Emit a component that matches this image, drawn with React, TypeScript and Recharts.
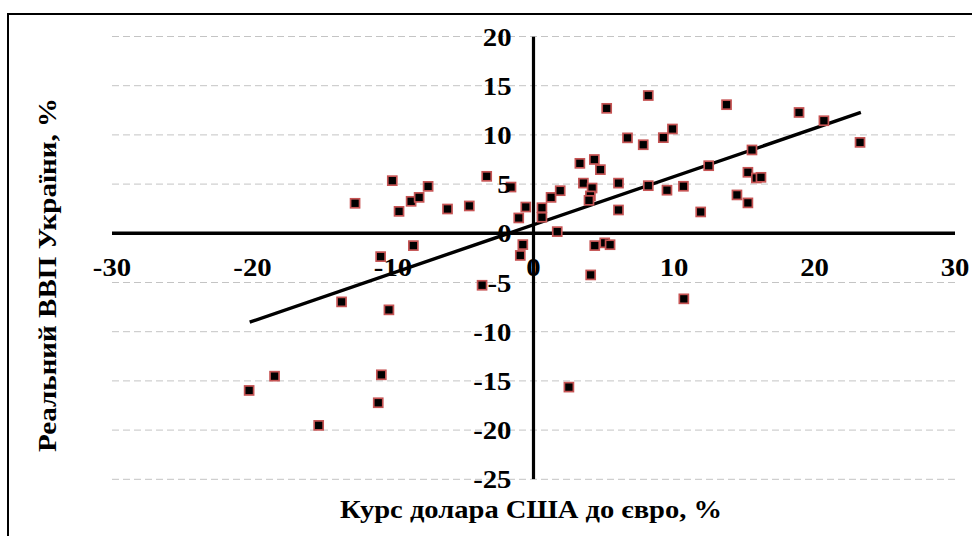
import React from "react";
import { ScatterChart, Scatter, XAxis, YAxis, CartesianGrid } from "recharts";

// Курс долара США до євро, % (x) and Реальний ВВП України, % (y)
const usdEur: number[] = [
  -12.7, -10.05, -9.57, -8.71, -8.14, -7.5, -6.12, -4.57, -3.33, -1.6,
  -0.55, -1.05, 0.6, 0.6, 1.25, 1.9, 1.69, -8.55, -10.88, -0.76,
  -0.94, -3.66, -13.66, -10.29, 3.3, 4.33, 4.76, 3.55, 4.17, 4.05,
  3.95, 6.05, 6.05, 6.69, 5.21, 8.17, 7.81, 9.24, 9.89, 8.17,
  9.5, 10.67, 11.9, 12.47, 13.74, 4.36, 5.07, 5.45, 4.07, 10.7,
  18.9, 20.67, 23.24, 15.55, 15.26, 15.86, 16.19, 14.48, 15.26, -20.24,
  -18.43, -15.29, -10.83, -11.05, 2.52,
];
const gdpUa: number[] = [
  3.05, 5.35, 2.23, 3.25, 3.65, 4.77, 2.47, 2.78, 5.79, 4.7,
  2.67, 1.56, 2.6, 1.63, 3.65, 4.33, 0.17, -1.25, -2.37, -1.15,
  -2.25, -5.28, -6.97, -7.78, 7.11, 7.5, 6.47, 5.1, 4.6, 3.8,
  3.35, 5.1, 2.37, 9.7, 12.7, 14.0, 9.0, 9.72, 10.6, 4.84,
  4.38, 4.78, 2.17, 6.87, 13.07, -1.25, -0.97, -1.16, -4.23, -6.66,
  12.28, 11.44, 9.24, 8.47, 6.2, 5.62, 5.69, 3.9, 3.09, -15.97,
  -14.52, -19.52, -14.38, -17.22, -15.63,
];
const trendX: number[] = [-20.2, 23.3];
const trendY: number[] = [-9.03, 12.28];
const xTicks: number[] = [-30, -20, -10, 0, 10, 20, 30];
const yTicks: number[] = [20, 15, 10, 5, 0, -5, -10, -15, -20, -25];
const X_DOMAIN: [number, number] = [-30, 30];
const Y_DOMAIN: [number, number] = [-25, 20];

const points = usdEur.map((x, i) => ({ x, y: gdpUa[i] }));
const trend = trendX.map((x, i) => ({ x, y: trendY[i] }));
const hAxis = [{ x: X_DOMAIN[0], y: 0 }, { x: X_DOMAIN[1], y: 0 }];
const vAxis = [{ x: 0, y: Y_DOMAIN[1] }, { x: 0, y: Y_DOMAIN[0] }];

const W = 972;
const H = 536;
const AX_H = 30;
const AX_W = 30;
const plotLeft = 112;
const plotTop = 36.5;
const plotRight = 955;
const plotBottom = 479.3;
const margin = {
  top: plotTop,
  right: W - plotRight,
  bottom: H - plotBottom - AX_H,
  left: plotLeft - AX_W,
};
const plotW = plotRight - plotLeft;
const plotH = plotBottom - plotTop;
const originX =
  plotLeft + (plotW * (0 - X_DOMAIN[0])) / (X_DOMAIN[1] - X_DOMAIN[0]);
const originY =
  plotTop + (plotH * (Y_DOMAIN[1] - 0)) / (Y_DOMAIN[1] - Y_DOMAIN[0]);

const FONT = '"Liberation Serif", "Tinos", "Times New Roman", "DejaVu Serif", serif';
const textStyle: React.CSSProperties = {
  fontFamily: FONT,
  fontWeight: 700,
  fontSize: 25,
};

const renderXTick = (props: any) => {
  const { x, payload } = props;
  return (
    <text
      key={`xt-${payload.value}`}
      transform={`translate(${x},${originY + 43}) scale(1.15,1)`}
      textAnchor="middle"
      fontFamily={FONT}
      style={textStyle}
      fill="#000"
    >
      {payload.value}
    </text>
  );
};

const renderYTick = (props: any) => {
  const { y, payload } = props;
  return (
    <text
      key={`yt-${payload.value}`}
      transform={`translate(${originX - 22},${y + 9}) scale(1.15,1)`}
      textAnchor="end"
      fontFamily={FONT}
      style={textStyle}
      fill="#000"
    >
      {payload.value}
    </text>
  );
};

const SquareMark = (props: any) => {
  const { cx, cy } = props;
  if (cx == null || cy == null) return <g />;
  const s = 9;
  return (
    <rect
      x={cx - s / 2}
      y={cy - s / 2}
      width={s}
      height={s}
      fill="#000"
      stroke="#c65454"
      strokeWidth={1.7}
    />
  );
};

const NoMark = () => <g />;

export default function App() {
  return (
    <div
      style={{
        position: "absolute",
        left: 0,
        top: 0,
        width: W,
        height: H,
        background: "#fff",
        overflow: "hidden",
        fontFamily: FONT,
      }}
    >
      <div
        style={{
          position: "absolute",
          left: 7,
          top: 13,
          width: 990,
          height: 560,
          border: "2.5px solid #000",
          boxSizing: "border-box",
        }}
      />
      <div style={{ position: "absolute", left: 0, top: 0 }}>
        <ScatterChart width={W} height={H} margin={margin}>
          <CartesianGrid
            horizontal={true}
            vertical={false}
            stroke="#c4c4c4"
            strokeDasharray="7 4"
            strokeWidth={1}
          />
          <XAxis
            type="number"
            dataKey="x"
            domain={X_DOMAIN}
            ticks={xTicks}
            interval={0}
            height={AX_H}
            axisLine={false}
            tickLine={false}
            tick={renderXTick}
            allowDataOverflow={true}
          />
          <YAxis
            type="number"
            dataKey="y"
            domain={Y_DOMAIN}
            ticks={yTicks}
            interval={0}
            width={AX_W}
            axisLine={false}
            tickLine={false}
            tick={renderYTick}
            allowDataOverflow={true}
          />
          <Scatter
            data={hAxis}
            line={{ stroke: "#000", strokeWidth: 3.4 }}
            shape={<NoMark />}
            isAnimationActive={false}
          />
          <Scatter
            data={vAxis}
            line={{ stroke: "#000", strokeWidth: 3.2 }}
            shape={<NoMark />}
            isAnimationActive={false}
          />
          <Scatter
            data={trend}
            line={{ stroke: "#000", strokeWidth: 3.4 }}
            shape={<NoMark />}
            isAnimationActive={false}
          />
          <Scatter
            data={points}
            shape={<SquareMark />}
            isAnimationActive={false}
          />
        </ScatterChart>
      </div>
      <svg
        width={W}
        height={H}
        style={{ position: "absolute", left: 0, top: 0, pointerEvents: "none" }}
      >
        <text
          x={531}
          y={518}
          textAnchor="middle"
          fontFamily={FONT}
          style={textStyle}
          textLength={382}
          lengthAdjust="spacingAndGlyphs"
          fill="#000"
        >
          Курс долара США до євро, %
        </text>
        <text
          transform={`translate(56,275) rotate(-90)`}
          textAnchor="middle"
          fontFamily={FONT}
          style={textStyle}
          textLength={354}
          lengthAdjust="spacingAndGlyphs"
          fill="#000"
        >
          Реальний ВВП України, %
        </text>
      </svg>
    </div>
  );
}
